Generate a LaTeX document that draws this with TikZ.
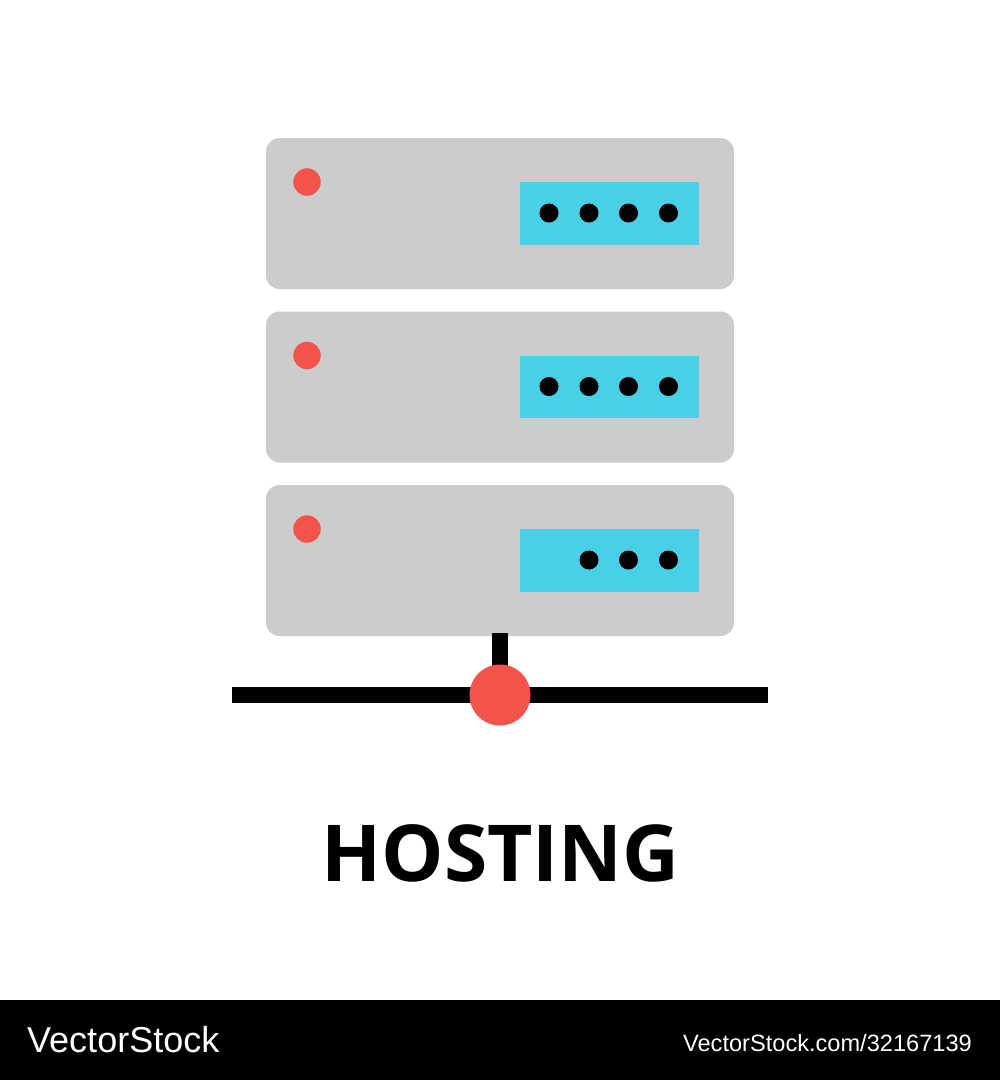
\documentclass[tikz,border=0pt]{standalone}
\usepackage{fontspec}
\setmainfont{Open Sans}
\newfontfamily\wm{Liberation Sans}
\definecolor{srvgray}{HTML}{CCCCCC}
\definecolor{ledred}{HTML}{F2544B}
\definecolor{paneblue}{HTML}{48D1E6}
\pgfdeclarelayer{base}
\pgfdeclarelayer{wires}
\pgfsetlayers{base,wires,main}
\tikzset{
 x=1pt,y=-1pt,
 srv/.style={fill=srvgray,draw=none,rounded corners=13.5pt},
 pane/.style={fill=paneblue,draw=none},
 led/.style={circle,fill=ledred,draw=none,minimum size=27.5pt,inner sep=0pt},
 dot/.style={circle,fill=black,draw=none,minimum size=19pt,inner sep=0pt},
 wire/.style={draw=black,line width=16pt},
 hub/.style={circle,fill=ledred,draw=none,minimum size=61pt,inner sep=0pt,outer sep=0pt},
}
\begin{document}
\begin{tikzpicture}
\begin{pgfonlayer}{base}
\fill[white] (0,0) rectangle (1000,1080);
\fill[black] (0,1000) rectangle (1000,1080);
\foreach \o in {0,173.5,347}{
 \fill[srv] (266,138+\o) rectangle (734,289+\o);
}
\end{pgfonlayer}
\useasboundingbox (0,0) rectangle (1000,1080);
\foreach \o/\n in {0/a,173.5/b,347/c}{
 \fill[pane] (520,182+\o) rectangle (699,244.5+\o);
 \node[led] (led\n) at (307,182+\o) {};
 \node[dot] (d3\n) at (589,213+\o) {};
 \node[dot] (d2\n) at (628.5,213+\o) {};
 \node[dot] (d1\n) at (668.5,213+\o) {};
}
\node[dot] (d4a) at (549,213) {};
\node[dot] (d4b) at (549,386.5) {};
\coordinate (top) at (500,633);
\coordinate (wl) at (232,695);
\coordinate (wr) at (768,695);
\node[hub] (hub) at (500,695) {};
\begin{pgfonlayer}{wires}
\draw[wire] (wl) -- (hub.center);
\draw[wire] (hub.center) -- (wr);
\draw[wire] (top) -- (hub.center);
\end{pgfonlayer}
\node[anchor=base,inner sep=0pt,font=\fontsize{78.5pt}{78.5pt}\selectfont\bfseries] (title) at (500.5,881.5) {HOSTING};
\node[anchor=base west,inner sep=0pt,text=white,font=\wm\fontsize{36pt}{36pt}\selectfont] (wm1) at (27,1052) {VectorStock};
\node[anchor=base east,inner sep=0pt,text=white,font=\wm\fontsize{23.6pt}{23.6pt}\selectfont] (wm2) at (972,1051) {VectorStock.com/32167139};
\end{tikzpicture}
\end{document}
